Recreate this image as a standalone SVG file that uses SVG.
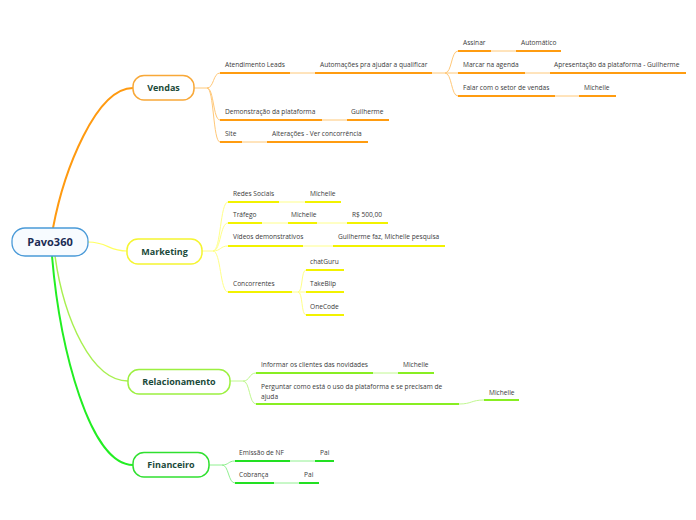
<svg xmlns="http://www.w3.org/2000/svg" width="696" height="520" viewBox="0 0 696 520">
<style>
.t{font-family:"Open Sans","Noto Sans",sans-serif;font-size:6.6px;fill:#3a3a3a}
.m{font-family:"Open Sans","Noto Sans",sans-serif;font-size:9px;font-weight:bold;fill:#1b4a3a;text-anchor:middle}
.r{font-family:"Open Sans","Noto Sans",sans-serif;font-size:11px;font-weight:bold;fill:#1c2b55;text-anchor:middle}
.c{fill:none}
.uo{stroke:#ff9c10;stroke-width:2}
.lo{stroke:#ffc878;stroke-width:1}
.uy{stroke:#f2f200;stroke-width:2}
.ly{stroke:#ffff88;stroke-width:1}
.ug{stroke:#88ee22;stroke-width:2}
.lg{stroke:#c0f890;stroke-width:1}
.uf{stroke:#22e022;stroke-width:2}
.lf{stroke:#90f090;stroke-width:1}
</style>
<rect width="696" height="520" fill="#ffffff"/>
<g id="connectors" class="c">
<path d="M53,228 C64,170 96,88 133,88" stroke="#ff9a10" stroke-width="2" fill="none"/>
<path d="M88,242 C108,242 108,251 127,251" stroke="#ffff60" stroke-width="1.2" fill="none"/>
<path d="M55,256 C64,320 92,381 128,381" stroke="#a8f050" stroke-width="1.5" fill="none"/>
<path d="M52,256 C60,350 90,465 133,465" stroke="#22ee22" stroke-width="2" fill="none"/>
<g class="lo" fill="none">
<path d="M194,88 H207 M207,88 C214,88 213,73 220,73 M207,88 C214,88 213,120 220,120 M207,88 C214,88 213,142 220,142"/>
<path d="M290,73 H315 M322,120 H347 M242,142 H267"/>
<path d="M432,73 H445 M445,73 C452,73 451,51 458,51 M445,73 H458 M445,73 C452,73 451,96 458,96"/>
<path d="M491,51 H516 M525,73 H550 M555,96 H579"/>
</g>
<g class="ly" fill="none">
<path d="M202,251 H213 M213,251 C221,251 220,202 228,202 M213,251 C221,251 220,223 228,223 M213,251 C221,251 220,246 228,246 M213,251 C221,251 220,292 228,292"/>
<path d="M279,202 H305 M262,223 H288 M317,223 H347 M303,246 H333"/>
<path d="M292,292 H298 M298,292 C303,292 301,270 306,270 M298,292 H306 M298,292 C303,292 301,315 306,315"/>
</g>
<g class="lg" fill="none">
<path d="M230,381 H243 M243,381 C250,381 249,373 256,373 M243,381 C250,381 249,404 256,404"/>
<path d="M373,373 H398 M459,404 C472,404 471,400 484,400"/>
</g>
<g class="lf" fill="none">
<path d="M209,465 H222 M222,465 C229,465 228,461 235,461 M222,465 C229,465 228,483 235,483"/>
<path d="M290,461 H315 M274,483 H299"/>
</g>
</g>
<g id="root">
<rect x="12" y="228" width="76" height="28" rx="13" fill="#f7fbff" stroke="#4a9ad8" stroke-width="1.3"/>
<text class="r" x="50" y="246">Pavo360</text>
</g>
<g id="vendas">
<rect x="133" y="75.5" width="61" height="24.5" rx="11" fill="#ffffff" stroke="#f8a838" stroke-width="1.5"/>
<text class="m" x="163.5" y="91">Vendas</text>
</g>
<g id="marketing">
<rect x="127" y="239" width="75" height="25" rx="11" fill="#ffffff" stroke="#f5f530" stroke-width="1.5"/>
<text class="m" x="164.5" y="254.5">Marketing</text>
</g>
<g id="relacionamento">
<rect x="128" y="369.5" width="102" height="24.5" rx="11" fill="#ffffff" stroke="#9cf040" stroke-width="1.5"/>
<text class="m" x="179" y="385">Relacionamento</text>
</g>
<g id="financeiro">
<rect x="133" y="452.5" width="76" height="24.5" rx="11" fill="#ffffff" stroke="#30e030" stroke-width="1.5"/>
<text class="m" x="171" y="468">Financeiro</text>
</g>
<g id="atendimento"><text class="t" x="225" y="67">Atendimento Leads</text><line class="uo" x1="220" y1="73" x2="290" y2="73"/></g>
<g id="automacoes"><text class="t" x="320" y="67">Automações pra ajudar a qualificar</text><line class="uo" x1="315" y1="73" x2="432" y2="73"/></g>
<g id="assinar"><text class="t" x="463" y="45">Assinar</text><line class="uo" x1="458" y1="51" x2="491" y2="51"/></g>
<g id="automatico"><text class="t" x="521" y="45">Automático</text><line class="uo" x1="516" y1="51" x2="561" y2="51"/></g>
<g id="marcar"><text class="t" x="463" y="67">Marcar na agenda</text><line class="uo" x1="458" y1="73" x2="525" y2="73"/></g>
<g id="apresentacao"><text class="t" x="554" y="67">Apresentação da plataforma - Guilherme</text><line class="uo" x1="550" y1="73" x2="686" y2="73"/></g>
<g id="falar"><text class="t" x="463" y="90">Falar com o setor de vendas</text><line class="uo" x1="458" y1="96" x2="555" y2="96"/></g>
<g id="michelle1"><text class="t" x="584" y="90">Michelle</text><line class="uo" x1="579" y1="96" x2="616" y2="96"/></g>
<g id="demonstracao"><text class="t" x="225" y="114">Demonstração da plataforma</text><line class="uo" x1="220" y1="120" x2="322" y2="120"/></g>
<g id="guilherme1"><text class="t" x="351" y="114">Guilherme</text><line class="uo" x1="347" y1="120" x2="389" y2="120"/></g>
<g id="site"><text class="t" x="225" y="136">Site</text><line class="uo" x1="220" y1="142" x2="242" y2="142"/></g>
<g id="alteracoes"><text class="t" x="272" y="136">Alterações - Ver concorrência</text><line class="uo" x1="267" y1="142" x2="368" y2="142"/></g>
<g id="redes"><text class="t" x="233" y="196">Redes Sociais</text><line class="uy" x1="228" y1="202" x2="279" y2="202"/></g>
<g id="michelle2"><text class="t" x="310" y="196">Michelle</text><line class="uy" x1="305" y1="202" x2="341" y2="202"/></g>
<g id="trafego"><text class="t" x="233" y="217">Tráfego</text><line class="uy" x1="228" y1="223" x2="262" y2="223"/></g>
<g id="michelle3"><text class="t" x="291" y="217">Michelle</text><line class="uy" x1="288" y1="223" x2="317" y2="223"/></g>
<g id="rs500"><text class="t" x="352" y="217">R$ 500,00</text><line class="uy" x1="347" y1="223" x2="388" y2="223"/></g>
<g id="videos"><text class="t" x="233" y="239">Vídeos demonstrativos</text><line class="uy" x1="228" y1="246" x2="303" y2="246"/></g>
<g id="guilhermefaz"><text class="t" x="338" y="239">Guilherme faz, Michelle pesquisa</text><line class="uy" x1="333" y1="246" x2="445" y2="246"/></g>
<g id="concorrentes"><text class="t" x="233" y="286">Concorrentes</text><line class="uy" x1="228" y1="292" x2="292" y2="292"/></g>
<g id="chatguru"><text class="t" x="310" y="264">chatGuru</text><line class="uy" x1="306" y1="270" x2="344" y2="270"/></g>
<g id="takeblip"><text class="t" x="310" y="286">TakeBlip</text><line class="uy" x1="306" y1="292" x2="344" y2="292"/></g>
<g id="onecode"><text class="t" x="310" y="309">OneCode</text><line class="uy" x1="306" y1="315" x2="344" y2="315"/></g>
<g id="informar"><text class="t" x="261" y="367">Informar os clientes das novidades</text><line class="ug" x1="256" y1="373" x2="373" y2="373"/></g>
<g id="michelle4"><text class="t" x="403" y="367">Michelle</text><line class="ug" x1="398" y1="373" x2="434" y2="373"/></g>
<g id="perguntar"><text class="t" x="261" y="389">Perguntar como está o uso da plataforma e se precisam de</text><text class="t" x="261" y="399">ajuda</text><line class="ug" x1="256" y1="404" x2="459" y2="404"/></g>
<g id="michelle5"><text class="t" x="489" y="395">Michelle</text><line class="ug" x1="484" y1="400" x2="519" y2="400"/></g>
<g id="emissao"><text class="t" x="239" y="455">Emissão de NF</text><line class="uf" x1="235" y1="461" x2="290" y2="461"/></g>
<g id="pai1"><text class="t" x="320" y="455">Pai</text><line class="uf" x1="315" y1="461" x2="334" y2="461"/></g>
<g id="cobranca"><text class="t" x="239" y="477">Cobrança</text><line class="uf" x1="235" y1="483" x2="274" y2="483"/></g>
<g id="pai2"><text class="t" x="304" y="477">Pai</text><line class="uf" x1="299" y1="483" x2="319" y2="483"/></g>
</svg>
